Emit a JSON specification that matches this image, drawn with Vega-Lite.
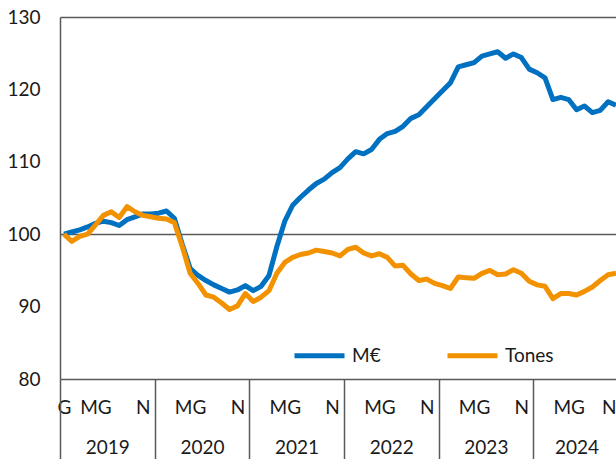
{
  "$schema": "https://vega.github.io/schema/vega-lite/v6.json",
  "width": 556,
  "height": 362,
  "autosize": {"type": "none"},
  "padding": {"left": 60, "top": 17, "right": 0, "bottom": 80},
  "background": "white",
  "config": {
    "view": {"stroke": null},
    "font": "Lato",
    "axis": {"labelFont": "Lato", "labelFontSize": 19, "labelColor": "#1a1a1a", "labelOverlap": false, "labelBound": false}
  },
  "datasets": {
    "series": [
      {"t":0.5,"s":"M€","v":100.0},{"t":1.5,"s":"M€","v":100.3},{"t":2.5,"s":"M€","v":100.6},{"t":3.5,"s":"M€","v":101.0},{"t":4.5,"s":"M€","v":101.5},{"t":5.5,"s":"M€","v":101.8},{"t":6.5,"s":"M€","v":101.6},{"t":7.5,"s":"M€","v":101.2},{"t":8.5,"s":"M€","v":102.0},{"t":9.5,"s":"M€","v":102.4},
      {"t":10.5,"s":"M€","v":102.8},{"t":11.5,"s":"M€","v":102.8},{"t":12.5,"s":"M€","v":102.9},{"t":13.5,"s":"M€","v":103.2},{"t":14.5,"s":"M€","v":102.2},{"t":15.5,"s":"M€","v":98.6},{"t":16.5,"s":"M€","v":95.3},{"t":17.5,"s":"M€","v":94.3},{"t":18.5,"s":"M€","v":93.6},{"t":19.5,"s":"M€","v":93.0},
      {"t":20.5,"s":"M€","v":92.5},{"t":21.5,"s":"M€","v":92.0},{"t":22.5,"s":"M€","v":92.3},{"t":23.5,"s":"M€","v":92.9},{"t":24.5,"s":"M€","v":92.2},{"t":25.5,"s":"M€","v":92.8},{"t":26.5,"s":"M€","v":94.3},{"t":27.5,"s":"M€","v":98.3},{"t":28.5,"s":"M€","v":101.8},{"t":29.5,"s":"M€","v":104.0},
      {"t":30.5,"s":"M€","v":105.1},{"t":31.5,"s":"M€","v":106.1},{"t":32.5,"s":"M€","v":107.0},{"t":33.5,"s":"M€","v":107.6},{"t":34.5,"s":"M€","v":108.5},{"t":35.5,"s":"M€","v":109.2},{"t":36.5,"s":"M€","v":110.4},{"t":37.5,"s":"M€","v":111.4},{"t":38.5,"s":"M€","v":111.1},{"t":39.5,"s":"M€","v":111.7},
      {"t":40.5,"s":"M€","v":113.1},{"t":41.5,"s":"M€","v":113.9},{"t":42.5,"s":"M€","v":114.2},{"t":43.5,"s":"M€","v":114.9},{"t":44.5,"s":"M€","v":116.0},{"t":45.5,"s":"M€","v":116.5},{"t":46.5,"s":"M€","v":117.6},{"t":47.5,"s":"M€","v":118.7},{"t":48.5,"s":"M€","v":119.8},{"t":49.5,"s":"M€","v":120.9},
      {"t":50.5,"s":"M€","v":123.1},{"t":51.5,"s":"M€","v":123.4},{"t":52.5,"s":"M€","v":123.7},{"t":53.5,"s":"M€","v":124.6},{"t":54.5,"s":"M€","v":124.9},{"t":55.5,"s":"M€","v":125.2},{"t":56.5,"s":"M€","v":124.3},{"t":57.5,"s":"M€","v":124.9},{"t":58.5,"s":"M€","v":124.4},{"t":59.5,"s":"M€","v":122.8},
      {"t":60.5,"s":"M€","v":122.3},{"t":61.5,"s":"M€","v":121.6},{"t":62.5,"s":"M€","v":118.6},{"t":63.5,"s":"M€","v":118.9},{"t":64.5,"s":"M€","v":118.6},{"t":65.5,"s":"M€","v":117.2},{"t":66.5,"s":"M€","v":117.7},{"t":67.5,"s":"M€","v":116.8},{"t":68.5,"s":"M€","v":117.1},{"t":69.5,"s":"M€","v":118.3},
      {"t":70.5,"s":"M€","v":117.8},
      {"t":0.5,"s":"Tones","v":100.0},{"t":1.5,"s":"Tones","v":99.0},{"t":2.5,"s":"Tones","v":99.7},{"t":3.5,"s":"Tones","v":100.0},{"t":4.5,"s":"Tones","v":101.3},{"t":5.5,"s":"Tones","v":102.6},{"t":6.5,"s":"Tones","v":103.1},{"t":7.5,"s":"Tones","v":102.3},{"t":8.5,"s":"Tones","v":103.8},{"t":9.5,"s":"Tones","v":103.1},
      {"t":10.5,"s":"Tones","v":102.6},{"t":11.5,"s":"Tones","v":102.4},{"t":12.5,"s":"Tones","v":102.2},{"t":13.5,"s":"Tones","v":102.1},{"t":14.5,"s":"Tones","v":101.6},{"t":15.5,"s":"Tones","v":98.3},{"t":16.5,"s":"Tones","v":94.6},{"t":17.5,"s":"Tones","v":93.2},{"t":18.5,"s":"Tones","v":91.6},{"t":19.5,"s":"Tones","v":91.3},
      {"t":20.5,"s":"Tones","v":90.5},{"t":21.5,"s":"Tones","v":89.6},{"t":22.5,"s":"Tones","v":90.1},{"t":23.5,"s":"Tones","v":91.8},{"t":24.5,"s":"Tones","v":90.7},{"t":25.5,"s":"Tones","v":91.3},{"t":26.5,"s":"Tones","v":92.2},{"t":27.5,"s":"Tones","v":94.6},{"t":28.5,"s":"Tones","v":96.1},{"t":29.5,"s":"Tones","v":96.8},
      {"t":30.5,"s":"Tones","v":97.2},{"t":31.5,"s":"Tones","v":97.4},{"t":32.5,"s":"Tones","v":97.8},{"t":33.5,"s":"Tones","v":97.6},{"t":34.5,"s":"Tones","v":97.4},{"t":35.5,"s":"Tones","v":97.0},{"t":36.5,"s":"Tones","v":97.9},{"t":37.5,"s":"Tones","v":98.2},{"t":38.5,"s":"Tones","v":97.4},{"t":39.5,"s":"Tones","v":97.0},
      {"t":40.5,"s":"Tones","v":97.3},{"t":41.5,"s":"Tones","v":96.8},{"t":42.5,"s":"Tones","v":95.6},{"t":43.5,"s":"Tones","v":95.7},{"t":44.5,"s":"Tones","v":94.5},{"t":45.5,"s":"Tones","v":93.6},{"t":46.5,"s":"Tones","v":93.8},{"t":47.5,"s":"Tones","v":93.2},{"t":48.5,"s":"Tones","v":92.9},{"t":49.5,"s":"Tones","v":92.5},
      {"t":50.5,"s":"Tones","v":94.1},{"t":51.5,"s":"Tones","v":94.0},{"t":52.5,"s":"Tones","v":93.9},{"t":53.5,"s":"Tones","v":94.6},{"t":54.5,"s":"Tones","v":95.0},{"t":55.5,"s":"Tones","v":94.4},{"t":56.5,"s":"Tones","v":94.5},{"t":57.5,"s":"Tones","v":95.1},{"t":58.5,"s":"Tones","v":94.6},{"t":59.5,"s":"Tones","v":93.5},
      {"t":60.5,"s":"Tones","v":93.0},{"t":61.5,"s":"Tones","v":92.8},{"t":62.5,"s":"Tones","v":91.1},{"t":63.5,"s":"Tones","v":91.8},{"t":64.5,"s":"Tones","v":91.8},{"t":65.5,"s":"Tones","v":91.6},{"t":66.5,"s":"Tones","v":92.1},{"t":67.5,"s":"Tones","v":92.7},{"t":68.5,"s":"Tones","v":93.6},{"t":69.5,"s":"Tones","v":94.4},
      {"t":70.5,"s":"Tones","v":94.6}
    ]
  },
  "data": {"name": "series"},
  "layer": [
    {
      "mark": {"type": "line", "strokeWidth": 5, "strokeJoin": "round"},
      "encoding": {
        "x": {
          "field": "t", "type": "quantitative",
          "scale": {"domain": [0, 70.5], "nice": false, "zero": false},
          "axis": {
            "title": null,
            "orient": "bottom",
            "values": [0.5, 4.5, 10.5, 16.5, 22.5, 28.5, 34.5, 40.5, 46.5, 52.5, 58.5, 64.5, 70.5],
            "labelExpr": "datum.value === 0.5 ? 'G' : ((datum.value - 0.5) % 12 === 4 ? 'MG' : 'N')",
            "ticks": false,
            "grid": false,
            "domain": true,
            "domainColor": "#595959",
            "domainWidth": 1.5,
            "labelPadding": 19,
            "labelFlush": true
          }
        },
        "y": {
          "field": "v", "type": "quantitative",
          "scale": {"domain": [80, 130], "nice": false, "zero": false},
          "axis": {
            "title": null,
            "orient": "left",
            "values": [80, 90, 100, 110, 120, 130],
            "ticks": false,
            "labelPadding": 20,
            "domain": true,
            "domainColor": "#595959",
            "domainWidth": 1.5,
            "grid": true,
            "gridColor": "#595959",
            "gridWidth": 1.5,
            "gridOpacity": {"condition": {"test": "datum.value === 100 || datum.value === 130", "value": 1}, "value": 0}
          }
        },
        "color": {
          "field": "s", "type": "nominal",
          "scale": {"domain": ["M€", "Tones"], "range": ["#0070C0", "#F39200"]},
          "legend": {
            "title": null,
            "orient": "none",
            "legendX": 232,
            "legendY": 311,
            "direction": "horizontal",
            "labelFont": "Lato",
            "labelFontSize": 19,
            "labelColor": "#1a1a1a",
            "symbolType": "stroke",
            "symbolSize": 2500,
            "symbolStrokeWidth": 5,
            "columnPadding": 56,
            "labelOffset": 5,
            "padding": 0
          }
        }
      }
    },
    {
      "mark": {"type": "point", "opacity": 0},
      "encoding": {
        "x": {
          "field": "t", "type": "quantitative",
          "axis": {
            "title": null,
            "orient": "bottom",
            "values": [0, 12, 24, 36, 48, 60],
            "labels": false,
            "ticks": true,
            "tickSize": 80,
            "tickColor": "#595959",
            "tickWidth": 1.5,
            "domain": false,
            "grid": false
          }
        },
        "y": {"field": "v", "type": "quantitative", "axis": null}
      }
    },
    {
      "mark": {"type": "point", "opacity": 0},
      "encoding": {
        "x": {
          "field": "t", "type": "quantitative",
          "axis": {
            "title": null,
            "orient": "bottom",
            "values": [6, 18, 30, 42, 54, 65.5],
            "labelExpr": "'' + (2019 + floor(datum.value / 12))",
            "ticks": false,
            "domain": false,
            "grid": false,
            "labelPadding": 59
          }
        },
        "y": {"field": "v", "type": "quantitative", "axis": null}
      }
    }
  ],
  "resolve": {"axis": {"x": "independent", "y": "independent"}}
}
